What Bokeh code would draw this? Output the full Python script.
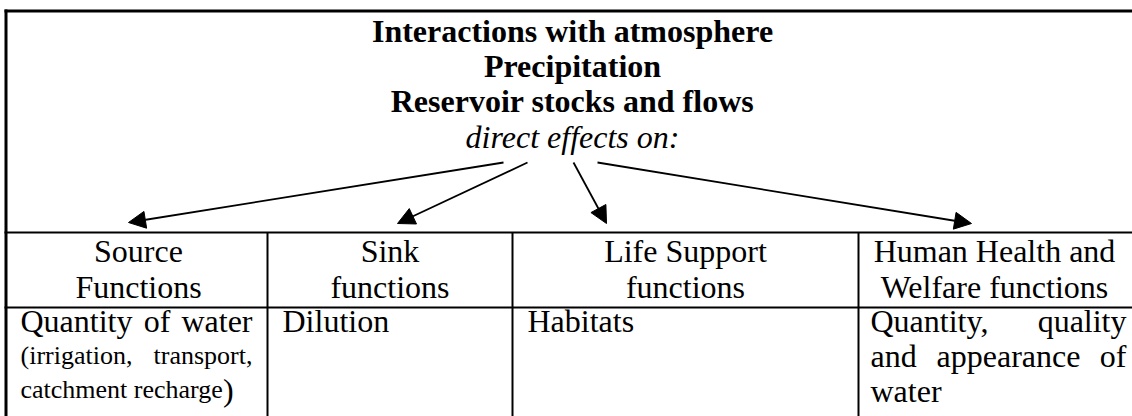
from bokeh.plotting import figure
from bokeh.models import Range1d, Arrow, NormalHead
from bokeh.core.properties import value
from bokeh.embed import file_html
from bokeh.resources import INLINE

# ---- content ----
title_lines = ["Interactions with atmosphere", "Precipitation", "Reservoir stocks and flows"]
subtitle = "direct effects on:"
header_line1 = ["Source", "Sink", "Life Support", "Human Health and"]
header_line2 = ["Functions", "functions", "functions", "Welfare functions"]
body_first = ["Dilution", "Habitats"]
src_line1 = ["Quantity", "of", "water"]
src_words = ["(irrigation,", "transport,", "catchment recharge", ")"]
hh_words = ["Quantity,", "quality", "and", "appearance", "of", "water"]

FONT = value("Liberation Serif")
DY = -11  # rendered baseline correction

p = figure(width=1132, height=416, x_range=Range1d(0, 1132), y_range=Range1d(416, 0),
           output_backend="svg", toolbar_location=None, min_border=0,
           x_axis_location=None, y_axis_location=None)
p.grid.visible = False
p.outline_line_color = None
p.background_fill_color = "white"
p.border_fill_color = "white"


def txt(xs, ys, texts, size="32px", style="normal", align="left"):
    p.text(x=xs, y=[y + DY for y in ys], text=texts, text_font=FONT, text_font_size=size,
           text_font_style=style, text_align=align, text_baseline="alphabetic",
           text_color="black")


# ---- table / frame lines ----
col_x = [267, 512, 858]
p.segment(x0=[5.5], y0=[9], x1=[5.5], y1=[416], line_color="black", line_width=3)
p.segment(x0=[4], y0=[10.5], x1=[1132], y1=[10.5], line_color="black", line_width=3)
p.segment(x0=[4, 4], y0=[232, 307], x1=[1132, 1132], y1=[232, 307], line_color="black", line_width=2)
p.segment(x0=col_x, y0=[232] * 3, x1=col_x, y1=[416] * 3, line_color="black", line_width=2)

# ---- title ----
txt([572] * 3, [41, 76, 111], title_lines, style="bold", align="center")
txt([572], [147], [subtitle], style="italic", align="center")

# ---- arrows ----
arrows = [((503, 162), (128, 222)), ((527, 162), (397, 223)),
          ((573, 162), (606, 223)), ((597, 162), (971, 223))]
for (xs, ys), (xe, ye) in arrows:
    p.add_layout(Arrow(end=NormalHead(size=17, fill_color="black", line_color="black", line_width=1),
                       x_start=xs, y_start=ys, x_end=xe, y_end=ye,
                       line_color="black", line_width=1.8))

# ---- headers ----
hx = [138, 389.5, 685, 994]
txt(hx, [261] * 4, header_line1, align="center")
txt(hx, [297] * 4, header_line2, align="center")

# ---- body ----
txt([282, 527], [331, 331], body_first)

# source column (justified)
txt([20], [331], [src_line1[0]])
txt([156.5], [331], [src_line1[1]], align="center")
txt([252], [331], [src_line1[2]], align="right")
txt([20], [366], [src_words[0]], size="26px")
txt([252], [366], [src_words[1]], size="26px", align="right")
txt([20], [400], [src_words[2]], size="26px")
txt([222.5], [400], [src_words[3]])

# human health column (justified)
txt([870, 870, 870], [331, 366, 401], [hh_words[0], hh_words[2], hh_words[5]])
txt([1126, 1126], [331, 366], [hh_words[1], hh_words[4]], align="right")
txt([1008], [366], [hh_words[3]], align="center")

open("out.html", "w").write(file_html(p, INLINE))
